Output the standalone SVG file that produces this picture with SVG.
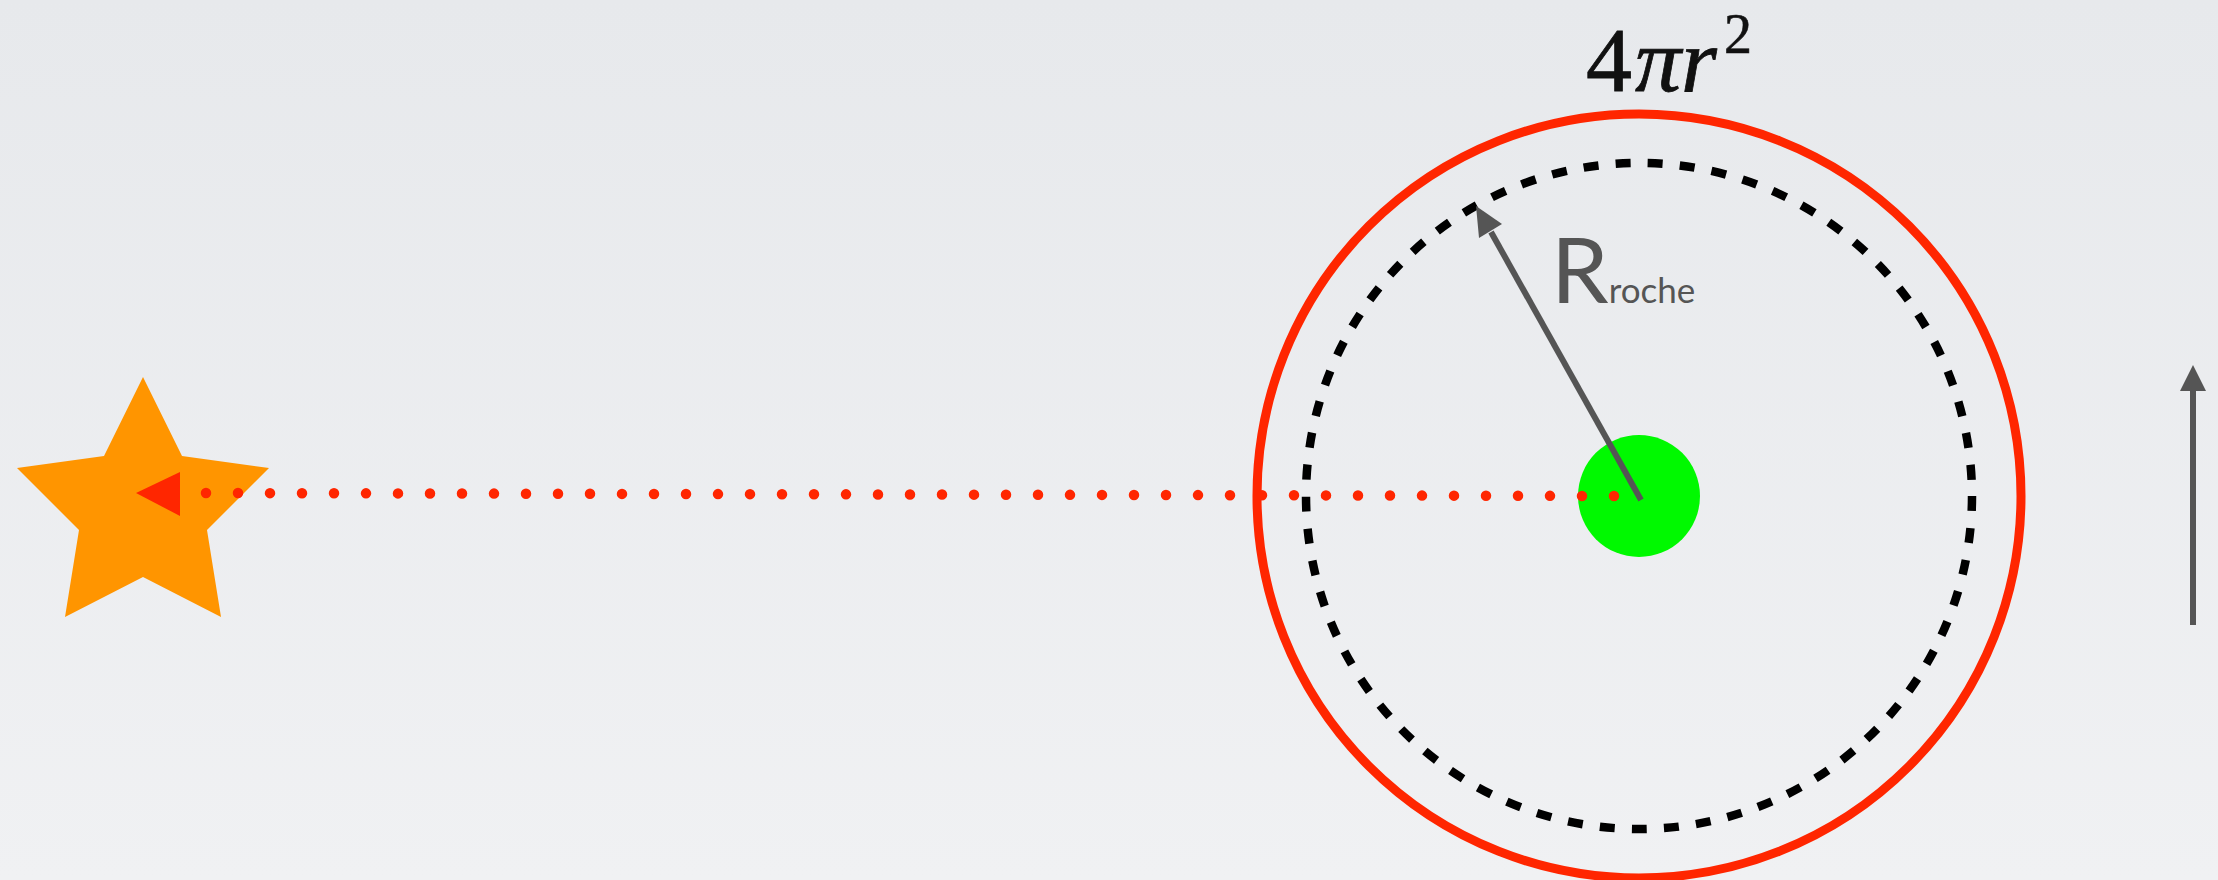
<svg xmlns="http://www.w3.org/2000/svg" width="2218" height="880" viewBox="0 0 2218 880">
<defs>
<linearGradient id="bg" x1="0" y1="0" x2="0" y2="1">
<stop offset="0" stop-color="#e7e9ec"/>
<stop offset="1" stop-color="#f0f1f3"/>
</linearGradient>
<style>
.gray{stroke:#555;stroke-width:6;fill:none}
.head{fill:#555}
.lbl{font-family:"Lato","Open Sans",sans-serif;fill:#555}
.math{font-family:"Liberation Serif",serif;fill:#111}
</style>
</defs>
<rect width="2218" height="880" fill="url(#bg)"/>
<g id="star">
<polygon points="143,377 182,456 269,468 207,530 221,617 143,577 65,617 79,530 17,468 104,456" fill="#ff9500"/>
</g>
<g id="sphere">
<circle cx="1639" cy="496" r="382" fill="none" stroke="#ff2600" stroke-width="9"/>
</g>
<g id="roche-lobe">
<circle cx="1639" cy="496" r="333" fill="none" stroke="#000" stroke-width="8.5" stroke-dasharray="15 17.19"/>
</g>
<g id="planet">
<circle cx="1639" cy="496" r="61" fill="#00f900"/>
</g>
<g id="connectors">
<line x1="1614" y1="496" x2="206" y2="493" stroke="#ff2600" stroke-width="10.5" stroke-linecap="round" stroke-dasharray="0 32"/>
<polygon points="136,493 180,472 180,516" fill="#ff2600"/>
<line class="gray" x1="1641" y1="500" x2="1491" y2="232"/>
<polygon class="head" points="1476,206 1502,224 1479,238"/>
<line class="gray" x1="2193" y1="625" x2="2193" y2="388"/>
<polygon class="head" points="2193,365 2206,391 2180,391"/>
</g>
<g id="labels">
<text class="lbl" x="1551" y="303" font-size="92">R<tspan font-size="35">roche</tspan></text>
<text class="math" x="1586" y="91" font-size="92" stroke="#111" stroke-width="0.8">4<tspan font-style="italic" dx="3">πr</tspan></text>
<text class="math" x="1724" y="53" font-size="56" stroke="#111" stroke-width="0.6">2</text>
</g>
</svg>
